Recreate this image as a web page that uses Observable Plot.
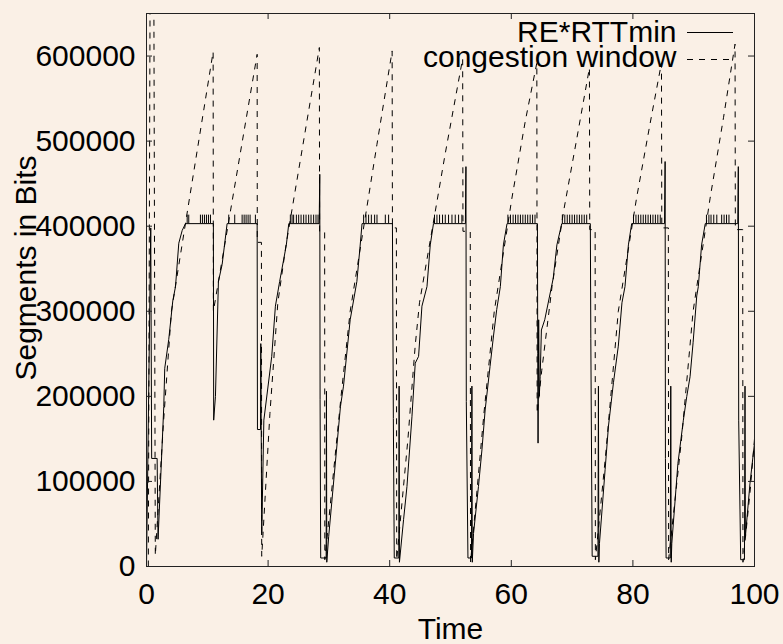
<!DOCTYPE html>
<html>
<head>
<meta charset="utf-8">
<script src="https://cdn.jsdelivr.net/npm/d3@7"></script>
<script src="https://cdn.jsdelivr.net/npm/@observablehq/plot@0.6"></script>
<style>
  html, body { margin: 0; padding: 0; background: #faf0e6; }
  #chart svg { display: block; }
</style>
</head>
<body>
<div id="chart"></div>
<script>
// RE*RTTmin trace (time, bits)
const reTime = [
  0.00, 0.70, 0.85, 1.75, 1.90, 2.84, 3.00, 3.66, 4.32, 4.77, 5.31, 5.87, 6.41,
  11.00, 11.05, 11.34, 11.83, 12.44, 13.26,
  18.20, 18.25, 18.75, 18.80, 18.95, 19.30, 20.60, 21.20, 21.90, 23.00, 23.40,
  28.40, 28.50, 28.55, 28.65, 29.55, 29.60, 29.65, 29.96, 31.90, 32.40, 33.50, 34.60, 35.10, 35.45,
  40.45, 40.60, 40.75, 41.50, 41.55, 41.60, 42.28, 42.84, 43.66, 44.20, 44.75, 45.30, 46.13, 46.67, 47.20,
  52.45, 52.54, 52.60, 52.87, 53.45, 53.52, 53.58, 53.79, 54.60, 55.17, 55.70, 56.50, 57.07, 57.60, 58.20, 58.70, 59.30,
  64.30, 64.35, 64.40, 64.50, 64.60, 64.75, 64.95, 65.50, 66.90, 67.50, 68.30,
  73.00, 73.08, 73.30, 74.25, 74.33, 74.40, 74.50, 75.43, 75.98, 76.80, 77.60, 78.20, 78.70, 79.26, 79.80,
  85.20, 85.30, 85.35, 85.46, 86.15, 86.23, 86.30, 86.40, 87.40, 88.30, 88.86, 89.40, 89.90, 90.50, 90.76, 91.30, 91.90,
  97.25, 97.34, 97.40, 97.73, 98.35, 98.44, 98.50, 99.26, 100.00
];
const reValue = [
  0, 398000, 127000, 127000, 32000, 188000, 233000, 267000, 312000, 329000, 380000, 395000, 403000,
  403000, 172000, 200000, 335000, 355000, 403000,
  403000, 161000, 161000, 262000, 37000, 172000, 247000, 306000, 335000, 378000, 403000,
  403000, 461000, 196000, 10000, 10000, 206000, 5000, 35000, 188000, 212000, 290000, 335000, 374000, 403000,
  403000, 174000, 10000, 10000, 212000, 5000, 55000, 94000, 176000, 239000, 247000, 306000, 329000, 378000, 403000,
  403000, 470000, 194000, 10000, 10000, 212000, 5000, 39000, 94000, 137000, 184000, 235000, 271000, 302000, 329000, 378000, 403000,
  403000, 250000, 145000, 290000, 200000, 223000, 278000, 290000, 339000, 378000, 403000,
  403000, 268000, 12000, 12000, 212000, 5000, 27000, 114000, 165000, 216000, 259000, 310000, 329000, 378000, 403000,
  403000, 476000, 127000, 10000, 10000, 212000, 5000, 27000, 121000, 172000, 200000, 223000, 263000, 318000, 329000, 378000, 403000,
  403000, 470000, 172000, 8000, 8000, 212000, 35000, 98000, 145000
];

// congestion window trace (time, bits)
const cwndTime = [
  0.30, 0.60, 1.20, 1.45, 2.80, 4.10, 6.85, 10.96,
  11.00, 18.20,
  18.22, 18.90, 18.95, 20.30, 21.60, 22.95, 28.43,
  28.47, 29.30, 29.33, 32.00, 33.50, 37.90, 40.40,
  40.45, 41.10, 41.15, 43.00, 44.20, 44.90, 47.50, 49.10, 52.00,
  52.05, 53.25, 53.30, 55.50, 57.20, 60.10, 62.30, 64.20,
  64.25, 65.00, 66.70, 68.60, 70.80, 72.85,
  72.90, 73.79, 73.83, 75.50, 77.60, 80.60, 82.80, 84.70,
  84.75, 85.83, 85.87, 88.00, 89.90, 92.70, 94.90, 96.80,
  96.85, 98.06, 98.10, 99.30, 100.00
];
const cwndValue = [
  0, 700000, 700000, 13000, 170000, 300000, 423000, 605000,
  300000, 602000,
  381000, 381000, 12000, 180000, 310000, 378000, 610000,
  394000, 394000, 8000, 200000, 300000, 496000, 606000,
  398000, 398000, 8000, 150000, 260000, 310000, 417600, 484000, 597000,
  394000, 394000, 5000, 180000, 300000, 433000, 523500, 592000,
  180000, 230000, 329000, 417600, 504000, 586000,
  396000, 396000, 8000, 130000, 300000, 433000, 519600, 592000,
  398000, 398000, 8000, 150000, 300000, 433000, 527500, 614000,
  396000, 396000, 5000, 90000, 150000
];

// short bursts above the RE*RTTmin ceiling
const spikeTime = [
  6.69, 6.95, 8.87, 9.20, 9.53, 9.86, 10.19, 10.52,
  13.53, 14.51, 15.73, 16.06, 16.38, 16.71, 17.04, 17.91,
  23.66, 23.94, 24.20, 24.65, 25.03, 25.42, 25.85, 26.24, 26.67, 27.06, 27.49, 27.88, 28.21,
  35.71, 36.10, 36.53, 36.98, 37.52, 37.91, 39.28, 39.82,
  47.37, 47.77, 48.20, 48.69, 49.14, 49.68, 50.24, 50.78, 51.33, 51.87,
  59.44, 59.86, 60.30, 60.70, 61.10, 61.50, 61.90, 62.30, 62.70, 63.10, 63.50, 63.90,
  68.40, 68.80, 69.20, 69.60, 70.00, 70.40, 70.80, 71.20, 71.60, 72.00, 72.40,
  80.10, 80.50, 80.90, 81.30, 81.70, 82.10, 82.50, 82.90, 83.30, 83.70, 84.10, 84.50,
  92.10, 92.50, 92.85, 93.30, 93.80, 94.60, 95.00, 95.40, 95.80
];
const ceilingLevel = 403000;
const spikeTop = 413000;

const xTicks = [0, 20, 40, 60, 80, 100];
const yTicks = [0, 100000, 200000, 300000, 400000, 500000, 600000];

const re = reTime.map((t, i) => ({t, v: reValue[i]}));
const cwnd = cwndTime.map((t, i) => ({t, v: cwndValue[i]}));

const W = 783, H = 644;
const M = {top: 13, right: 29, bottom: 78, left: 146};
const plotW = W - M.left - M.right;
const plotH = H - M.top - M.bottom;
const ink = "#000";
const frameInk = "#222";
const font = "'Liberation Sans', Arial, Helvetica, sans-serif";

const chart = Plot.plot({
  width: W,
  height: H,
  marginTop: M.top,
  marginRight: M.right,
  marginBottom: M.bottom,
  marginLeft: M.left,
  style: {background: "#faf0e6", fontFamily: font, fontSize: "30px", color: ink, overflow: "visible"},
  x: {domain: [0, 100]},
  y: {domain: [0, 650000]},
  marks: [
    Plot.line(cwnd, {x: "t", y: "v", stroke: ink, strokeWidth: 1, strokeDasharray: "6,6",
      strokeLinecap: "butt", strokeLinejoin: "miter", clip: true}),
    Plot.line(re, {x: "t", y: "v", stroke: ink, strokeWidth: 1, strokeLinejoin: "miter", clip: true}),
    Plot.ruleX(spikeTime, {x: d => d, y1: ceilingLevel, y2: spikeTop, stroke: ink, strokeWidth: 1}),
    // inward ticks on all four sides
    Plot.tickY(yTicks, {y: d => d, insetRight: plotW - 6, stroke: frameInk}),
    Plot.tickY(yTicks, {y: d => d, insetLeft: plotW - 6, stroke: frameInk}),
    Plot.tickX(xTicks, {x: d => d, insetTop: plotH - 6, stroke: frameInk}),
    Plot.tickX(xTicks, {x: d => d, insetBottom: plotH - 6, stroke: frameInk}),
    Plot.frame({stroke: frameInk, strokeWidth: 1}),
    Plot.axisX({ticks: xTicks, tickSize: 0, tickPadding: 16, tickFormat: d => String(d), label: null}),
    Plot.axisY({ticks: yTicks, tickSize: 0, tickPadding: 11, tickFormat: d => String(d), label: null}),
    Plot.text(["Time"], {text: d => d, frameAnchor: "bottom", lineAnchor: "middle", dy: 63}),
    Plot.text(["Segments in Bits"], {text: d => d, frameAnchor: "left", textAnchor: "middle",
      lineAnchor: "middle", rotate: -90, dx: -120.5, dy: -22}),
    Plot.text(["RE*RTTmin"], {text: d => d, frameAnchor: "top-right", textAnchor: "end",
      lineAnchor: "middle", dx: -78, dy: 19}),
    Plot.text(["congestion window"], {text: d => d, frameAnchor: "top-right", textAnchor: "end",
      lineAnchor: "middle", dx: -78, dy: 43.5})
  ]
});

// legend line samples beside the key labels
const svg = d3.select(chart);
const keyX1 = W - M.right - 67, keyX2 = W - M.right - 21;
svg.append("line")
  .attr("x1", keyX1).attr("x2", keyX2).attr("y1", M.top + 19.5).attr("y2", M.top + 19.5)
  .attr("stroke", ink).attr("stroke-width", 1);
svg.append("line")
  .attr("x1", keyX1).attr("x2", keyX2).attr("y1", M.top + 46.5).attr("y2", M.top + 46.5)
  .attr("stroke", ink).attr("stroke-width", 1).attr("stroke-dasharray", "6,6");

document.getElementById("chart").appendChild(chart);
</script>
</body>
</html>
